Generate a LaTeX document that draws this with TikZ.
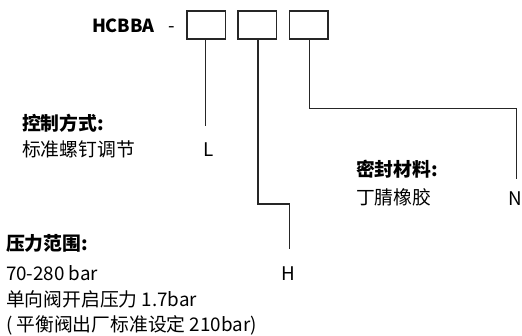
\documentclass[tikz,border=0pt]{standalone}
\usepackage{fontspec}
\setmainfont{Noto Sans CJK SC}
\begin{document}
\begin{tikzpicture}[x=1pt,y=-1pt,
  every node/.style={inner sep=0pt,outer sep=0pt,font=\fontsize{18.8}{22}\selectfont},
  txt/.style={anchor=base west},
  bold/.style={anchor=base west,font=\fontsize{18.8}{22}\selectfont\bfseries},
  codebox/.style={draw=black!85,line width=1.3pt,minimum width=38.5pt,minimum height=28pt,anchor=north west},
  conn/.style={draw=black!85,line width=1.3pt}]
\useasboundingbox (0,0) rectangle (522,335);
\node[bold,font=\fontsize{18}{22}\selectfont\bfseries] (model) at (92,32.7) {HCBBA};
\node[txt] (dash) at (168,32) {-};
\node[codebox] (b1) at (187,11) {};
\node[codebox] (b2) at (238,11) {};
\node[codebox] (b3) at (289.5,11) {};
\coordinate (e1) at (205.5,126);
\coordinate (k2a) at (258,204);
\coordinate (k2b) at (289.3,204);
\coordinate (e2) at (289.3,249);
\coordinate (k3a) at (309.3,108.7);
\coordinate (k3b) at (516.7,108.7);
\coordinate (e3) at (516.7,179);
\draw[conn] (b1.south -| e1) -- (e1);
\draw[conn] (b2.south -| k2a) -- (k2a) -- (k2b) -- (e2);
\draw[conn] (b3.south -| k3a) -- (k3a) -- (k3b) -- (e3);
\node[bold] (t1) at (22,130) {控制方式:};
\node[txt] (t1a) at (22,156.5) {标准螺钉调节};
\node[txt] (L) at (203.5,156.5) {L};
\node[bold] (t3) at (356,176.5) {密封材料:};
\node[txt] (t3a) at (356,204.5) {丁腈橡胶};
\node[anchor=base] (N) at (515.5,205) {N};
\node[bold] (t2) at (6,250) {压力范围:};
\node[txt] (t2a) at (6,280) {70-280 bar};
\node[anchor=base] (H) at (288.5,280) {H};
\node[txt] (t2b) at (6,306.5) {单向阀开启压力 1.7bar};
\node[txt] (t2c) at (6,331) {( 平衡阀出厂标准设定 210bar)};
\end{tikzpicture}
\end{document}
